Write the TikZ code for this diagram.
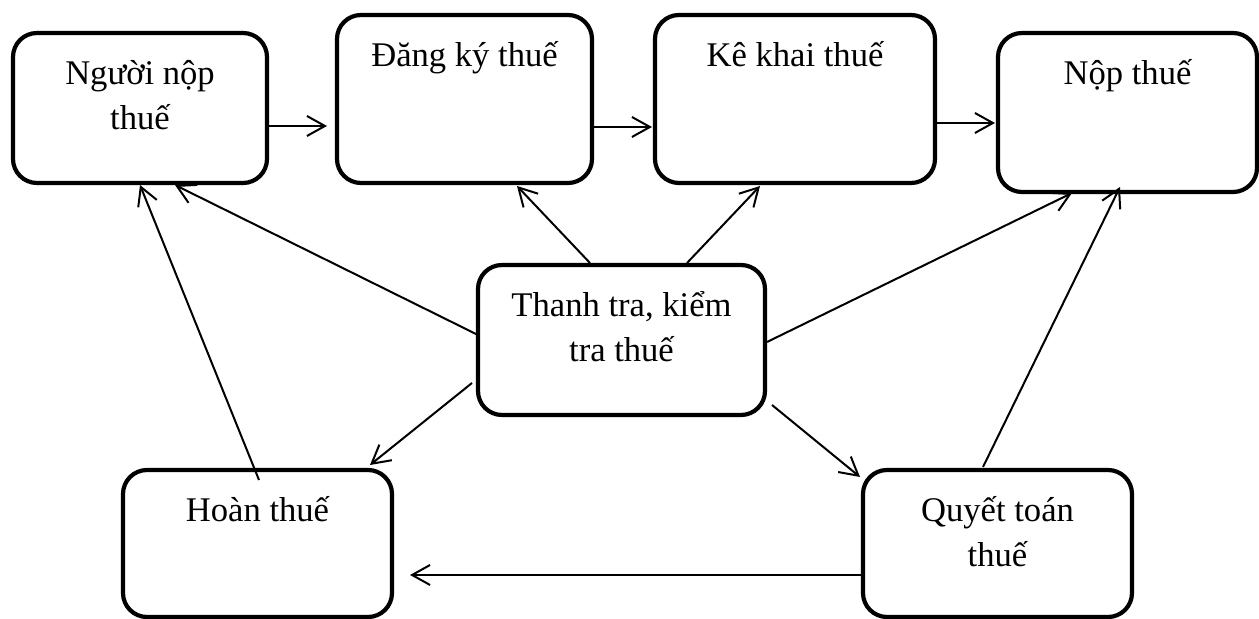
\documentclass[tikz,border=0pt]{standalone}
\usepackage{fontspec}
\setmainfont{Liberation Serif}
\usetikzlibrary{arrows.meta}

\begin{document}
\begin{tikzpicture}[x=0.5pt,y=-0.5pt,
  box/.style={draw, line width=2.1pt, rounded corners=12pt, outer sep=0pt, inner sep=0pt},
  txt/.style={anchor=base, yshift=-26pt, align=center, inner sep=0pt, font=\fontsize{17.3pt}{22.5pt}\selectfont},
  txttwo/.style={txt, yshift=-22.5pt},
  arr/.style={line width=1pt, -{Straight Barb[length=9pt,width=10pt]}}]
\useasboundingbox (0,0) rectangle (1259,619);
% boxes
\node[box, minimum width=127pt, minimum height=75pt, label={[txttwo]north:Người nộp\\thuế}] (nnt) at (140,108) {};
\node[box, minimum width=127.5pt, minimum height=84pt, label={[txt]north:Đăng ký thuế}] (dk) at (464.5,99) {};
\node[box, minimum width=140pt, minimum height=84pt, label={[txt]north:Kê khai thuế}] (kk) at (795,99) {};
\node[box, minimum width=129.5pt, minimum height=79.5pt, label={[txt]north:Nộp thuế}] (np) at (1127.5,112.5) {};
\node[box, minimum width=143.5pt, minimum height=75pt, label={[txttwo]north:{Thanh tra, kiểm\\tra thuế}}] (tt) at (621.5,340) {};
\node[box, minimum width=134.5pt, minimum height=73.5pt, label={[txt]north:Hoàn thuế}] (ht) at (257.5,543.5) {};
\node[box, minimum width=134.5pt, minimum height=73.5pt, label={[txttwo]north:Quyết toán\\thuế}] (qt) at (997.5,543.5) {};
% top row
\draw[arr] ([yshift=-9pt]nnt.east) -- ([xshift=-5pt,yshift=-13.5pt]dk.west);
\draw[arr] ([yshift=-14pt]dk.east) -- ([xshift=-1.5pt,yshift=-14pt]kk.west);
\draw[arr] ([yshift=-12pt]kk.east) -- ([xshift=-1.5pt,yshift=-5.25pt]np.west);
% from the middle box
\draw[arr] ([yshift=2.5pt]tt.west) -- ([xshift=17.5pt,yshift=-1pt]nnt.south);
\draw[arr] ([xshift=-15.75pt,yshift=1pt]tt.north) -- ([xshift=26.25pt,yshift=-1.5pt]dk.south);
\draw[arr] ([xshift=32.75pt,yshift=1pt]tt.north) -- ([xshift=-17.5pt,yshift=-1.5pt]kk.south);
\draw[arr] ([xshift=1pt,yshift=-1pt]tt.east) -- ([xshift=-27.75pt,yshift=-0.5pt]np.south);
\draw[arr] ([xshift=-3pt,yshift=-21.5pt]tt.west) -- ([xshift=-11pt,yshift=2.5pt]ht.north east);
\draw[arr] ([xshift=3.5pt,yshift=-32.5pt]tt.east) -- ([xshift=-1.5pt,yshift=-3.5pt]qt.north west);
% bottom boxes
\draw[arr] ([xshift=0.75pt,yshift=-5pt]ht.north) -- ([yshift=-1pt]nnt.south);
\draw[arr] ([xshift=-7.25pt,yshift=1.5pt]qt.north) -- ([xshift=-3.75pt,yshift=2.5pt]np.south);
\draw[arr] ([yshift=-15.75pt]qt.west) -- ([xshift=9pt,yshift=-15.75pt]ht.east);
\end{tikzpicture}
\end{document}
